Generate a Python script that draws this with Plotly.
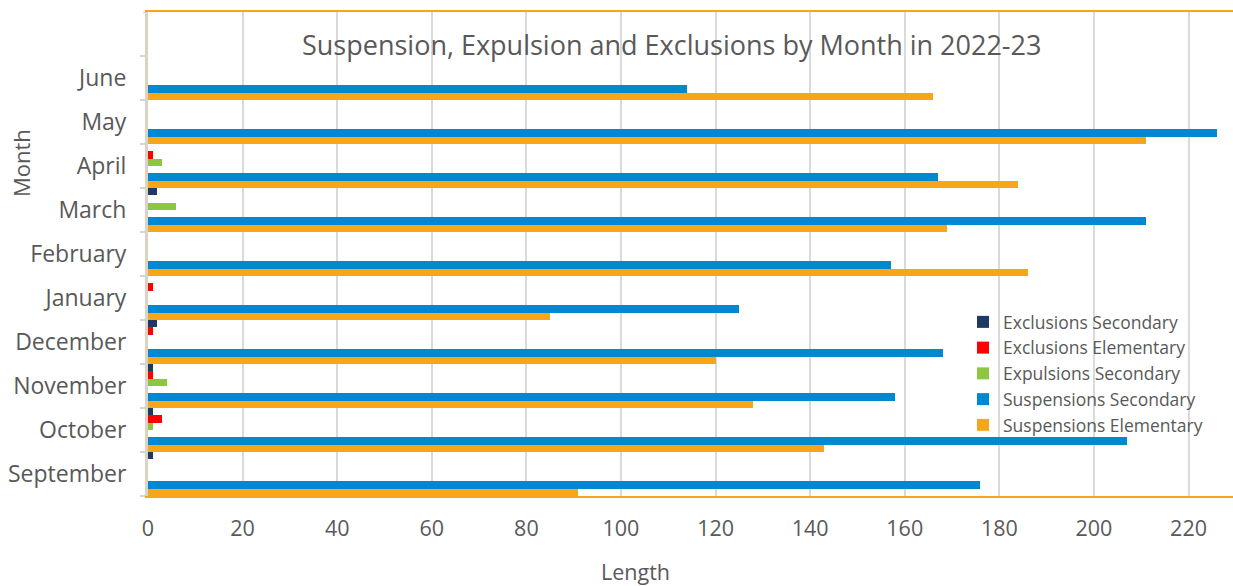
import plotly.graph_objects as go

months = ["September", "October", "November", "December", "January",
          "February", "March", "April", "May", "June"]

suspensions_elementary = [91, 143, 128, 120, 85, 186, 169, 184, 211, 166]
suspensions_secondary = [176, 207, 158, 168, 125, 157, 211, 167, 226, 114]
expulsions_elementary = [0, 0, 0, 0, 0, 0, 0, 0, 0, 0]
expulsions_secondary = [0, 1, 4, 0, 0, 0, 6, 3, 0, 0]
exclusions_elementary = [0, 3, 1, 1, 1, 0, 0, 1, 0, 0]
exclusions_secondary = [1, 1, 1, 2, 0, 0, 2, 0, 0, 0]

x_ticks = [0, 20, 40, 60, 80, 100, 120, 140, 160, 180, 200, 220]

series = [
    ("Suspensions Elementary", suspensions_elementary, "#f9a51b", True),
    ("Suspensions Secondary", suspensions_secondary, "#0089d0", True),
    ("Expulsions Elementary", expulsions_elementary, "#a5a5a5", False),
    ("Expulsions Secondary", expulsions_secondary, "#8dc63f", True),
    ("Exclusions Elementary", exclusions_elementary, "#ff0000", True),
    ("Exclusions Secondary", exclusions_secondary, "#1f3864", True),
]

FONT = "Open Sans"
TEXT_COLOR = "#595959"
W, H = 1233, 586
PL, PR, PT, PB = 148, 0, 12, 90
PW, PH = W - PL - PR, H - PT - PB


def px_x(px):
    return (px - PL) / PW


def px_y(py):
    return (H - py - PB) / PH


fig = go.Figure()
for name, vals, color, show in series:
    fig.add_trace(go.Bar(
        y=months, x=vals, name=name, orientation="h",
        marker=dict(color=color, line=dict(width=0)),
        showlegend=show,
    ))

fig.update_layout(
    width=W, height=H,
    margin=dict(l=PL, r=PR, t=PT, b=PB),
    paper_bgcolor="white", plot_bgcolor="white",
    barmode="group", bargap=0, bargroupgap=0,
    showlegend=True,
    legend=dict(
        traceorder="reversed",
        x=px_x(963), y=px_y(304), xanchor="left", yanchor="top",
        bgcolor="rgba(0,0,0,0)",
        font=dict(family=FONT, size=17.5, color=TEXT_COLOR),
        itemwidth=30,
    ),
    font=dict(family=FONT, color=TEXT_COLOR),
    xaxis=dict(
        range=[0, 229.4],
        tickvals=x_ticks,
        showgrid=True, gridcolor="#dadada", gridwidth=2,
        zeroline=False,
        showline=True, linecolor="#f9a51b", linewidth=2, mirror=True,
        ticks="", ticklabelstandoff=12,
        tickfont=dict(family=FONT, size=21.5, color=TEXT_COLOR),
    ),
    yaxis=dict(
        type="category",
        categoryorder="array", categoryarray=months,
        range=[-0.5, 10.5],
        showgrid=False, zeroline=False,
        showline=True, linecolor="#dcd3c5", linewidth=3,
        ticks="outside", ticklen=5, tickcolor="#dcd3c5", tickwidth=2,
        tickson="boundaries",
        ticklabelstandoff=14,
        tickfont=dict(family=FONT, size=23, color=TEXT_COLOR),
    ),
    shapes=[
        dict(type="line", xref="paper", yref="y",
             x0=-5 / PW, x1=0, y0=10.5, y1=10.5,
             line=dict(color="#dcd3c5", width=2)),
    ],
    annotations=[
        dict(text="Suspension, Expulsion and Exclusions by Month in 2022-23",
             x=px_x(671), y=px_y(44), xref="paper", yref="paper",
             showarrow=False, xanchor="center", yanchor="middle",
             font=dict(family=FONT, size=27, color=TEXT_COLOR)),
        dict(text="Month", textangle=-90,
             x=px_x(21), y=px_y(163), xref="paper", yref="paper",
             showarrow=False, xanchor="center", yanchor="middle",
             font=dict(family=FONT, size=22, color=TEXT_COLOR)),
        dict(text="Length",
             x=px_x(635), y=px_y(571), xref="paper", yref="paper",
             showarrow=False, xanchor="center", yanchor="middle",
             font=dict(family=FONT, size=21.5, color=TEXT_COLOR)),
    ],
)

fig.write_html("out.html")
